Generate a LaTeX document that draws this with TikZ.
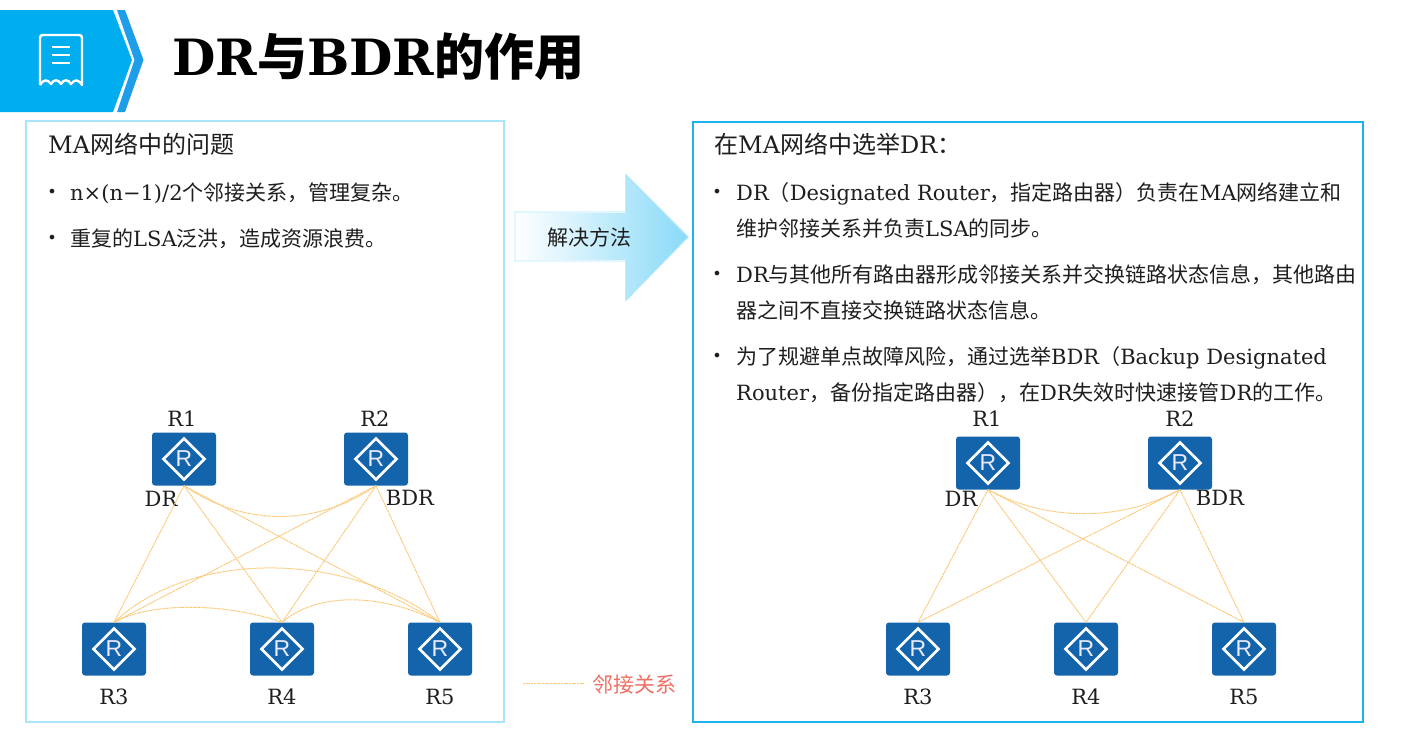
\documentclass[tikz,border=0pt]{standalone}
\usepackage{fontspec}
\setmainfont{DejaVu Serif}
\newfontfamily\cjk{Noto Sans CJK SC}
\newfontfamily\routerfont{Liberation Sans}
\newcommand{\zh}[1]{{\cjk #1}}
% full width marks
\newcommand{\fwcomma}{\zh{\symbol{"FF0C}}}
\newcommand{\fwopen}{\zh{\symbol{"FF08}}}
\newcommand{\fwclose}{\zh{\symbol{"FF09}}}
\newcommand{\fwcolon}{\zh{\symbol{"FF1A}}}
\usetikzlibrary{calc}
\definecolor{headblue}{HTML}{00AEEF}
\definecolor{bandblue}{HTML}{1E9DE8}
\definecolor{routerblue}{HTML}{1464AC}
\definecolor{lightframe}{HTML}{A8E4FA}
\definecolor{darkframe}{HTML}{1CB4EE}
\definecolor{arrowblue}{HTML}{8ADAF8}
\definecolor{linkorange}{HTML}{FBC878}
\definecolor{legendred}{HTML}{EE6F62}
\definecolor{textgrey}{HTML}{1E1E1E}
\tikzset{
    router/.style={rectangle, rounded corners=3, fill=routerblue, inner sep=0,
        minimum width=64, minimum height=53, text=blue!8, font=\routerfont\fontsize{23}{23}\selectfont,
        path picture={\draw[white, line width=2.6, sharp corners]
            ($(path picture bounding box.center)+(-20.5,0)$) -- ($(path picture bounding box.center)+(0,-20.5)$)
            -- ($(path picture bounding box.center)+(20.5,0)$) -- ($(path picture bounding box.center)+(0,20.5)$) -- cycle;}},
    rname/.style={text=textgrey, inner sep=0, font=\fontsize{21}{21}\selectfont},
    link/.style={linkorange, line width=1, dash pattern=on 2 off 0.7},
    head/.style={anchor=base west, inner sep=0, text=textgrey, font=\fontsize{24}{24}\selectfont},
    body/.style={anchor=base west, inner sep=0, text=textgrey, font=\fontsize{21}{21}\selectfont},
    dot/.style={inner sep=0, text=textgrey, font=\fontsize{16}{16}\selectfont},
}
\begin{document}
\begin{tikzpicture}[x=1pt, y=-1pt]
    \useasboundingbox (0,0) rectangle (1403,742);

    % Header
    \fill[headblue] (0,10) -- (113,10) -- (132,60) -- (113,112) -- (0,112) -- cycle;
    \fill[bandblue] (117,10) -- (125,10) -- (143.5,60) -- (125,112) -- (117,112) -- (134.5,60) -- cycle;
    \draw[white, line width=2.4, line join=round] (40,85) -- (40,38) .. controls (40,36) and (41,35) .. (43,35)
        -- (79,35) .. controls (81,35) and (82,36) .. (82,38) -- (82,85)
        .. controls (78,79) and (75,79) .. (71,84) .. controls (68,79) and (64,79) .. (61,84)
        .. controls (58,79) and (54,79) .. (51,84) .. controls (47,79) and (44,79) .. (40,85);
    \foreach \y in {47,55,63}
        \draw[white, line width=2.4] (52,\y) -- (70,\y);
    \node[anchor=base west, inner sep=0, font=\bfseries\fontsize{50}{50}\selectfont] (title) at (172,75)
        {DR\zh{与}BDR\zh{的作用}};

    % Frames
    \draw[lightframe, line width=2] (25.5,121) rectangle (504,722);
    \draw[darkframe, line width=2] (693,122) rectangle (1363,722);

    % Left text
    \node[head] (lefthead) at (48,153) {MA\zh{网络中的问题}};
    \foreach \y in {193,239}
        \node[dot] (ldot\y) at (52,\y) {•};
    \node[body] (lone) at (70,200.5) {n×(n−1)/2\zh{个邻接关系}\fwcomma\zh{管理复杂。}};
    \node[body] (ltwo) at (70,246.5) {\zh{重复的}LSA\zh{泛洪}\fwcomma\zh{造成资源浪费。}};

    % Arrow
    \path[left color=white, middle color=arrowblue!25, right color=arrowblue]
        (515,212) -- (626,212) -- (626,175) -- (688,237) -- (626,300) -- (626,261) -- (515,261) -- cycle;
    \draw[lightframe!35, line width=1.2] (626,212) -- (515,212) -- (515,261) -- (626,261);
    \draw[lightframe, line width=1.2] (626,212) -- (626,175) -- (688,237) -- (626,300) -- (626,261);
    \node[text=textgrey, inner sep=0, font=\fontsize{21}{21}\selectfont] (solve) at (589,237) {\zh{解决方法}};

    % Right text
    \node[head] (righthead) at (714,153.5) {\zh{在}MA\zh{网络中选举}DR\fwcolon};
    \foreach \y in {193,275,357}
        \node[dot] (rdot\y) at (717,\y) {•};
    \node[body] (rone) at (736,200.5) {DR\fwopen Designated Router\fwcomma\zh{指定路由器}\fwclose\zh{负责在}MA\zh{网络建立和}};
    \node[body] (roneb) at (736,236.5) {\zh{维护邻接关系并负责}LSA\zh{的同步。}};
    \node[body] (rtwo) at (736,282.5) {DR\zh{与其他所有路由器形成邻接关系并交换链路状态信息}\fwcomma\zh{其他路由}};
    \node[body] (rtwob) at (736,318.5) {\zh{器之间不直接交换链路状态信息。}};
    \node[body] (rthree) at (736,364.5) {\zh{为了规避单点故障风险}\fwcomma\zh{通过选举}BDR\fwopen Backup Designated};
    \node[body] (rthreeb) at (736,400.5) {Router\fwcomma\zh{备份指定路由器}\fwclose\fwcomma\zh{在}DR\zh{失效时快速接管}DR\zh{的工作。}};

    % Left routers
    \node[router] (la) at (184,459) {R};
    \node[router] (lb) at (376,459) {R};
    \node[router] (lc) at (114,649) {R};
    \node[router] (ld) at (282,649) {R};
    \node[router] (le) at (440,649) {R};
    \node[rname] (laname) at (182,419) {R1};
    \node[rname] (lbname) at (375,419) {R2};
    \node[rname] (lcname) at (114,697) {R3};
    \node[rname] (ldname) at (282,697) {R4};
    \node[rname] (lename) at (440,697) {R5};
    \node[rname] (ldr) at (161,499) {DR};
    \node[rname] (lbdr) at (410,498) {BDR};

    \draw[link] (la.south) -- (lc.north);
    \draw[link] (la.south) -- (ld.north);
    \draw[link] (la.south) -- (le.north);
    \draw[link] (lb.south) -- (lc.north);
    \draw[link] (lb.south) -- (ld.north);
    \draw[link] (lb.south) -- (le.north);
    \draw[link] (la.south) .. controls +(60,41) and +(-60,41) .. (lb.south);
    \draw[link] (lc.north) .. controls +(80,-75) and +(-90,-70) .. (le.north);
    \draw[link] (lc.north) .. controls +(40,-22) and +(-50,-18) .. (ld.north);
    \draw[link] (ld.north) .. controls +(35,-30) and +(-60,-30) .. (le.north);

    % Right routers
    \node[router] (ra) at (988,463) {R};
    \node[router] (rb) at (1180,463) {R};
    \node[router] (rc) at (918,649) {R};
    \node[router] (rd) at (1086,649) {R};
    \node[router] (re) at (1244,649) {R};
    \node[rname] (raname) at (987,419) {R1};
    \node[rname] (rbname) at (1180,419) {R2};
    \node[rname] (rcname) at (918,697) {R3};
    \node[rname] (rdname) at (1086,697) {R4};
    \node[rname] (rename) at (1244,697) {R5};
    \node[rname] (rdr) at (961,499) {DR};
    \node[rname] (rbdr) at (1220,498) {BDR};

    \draw[link] (ra.south) -- (rc.north);
    \draw[link] (ra.south) -- (rd.north);
    \draw[link] (ra.south) -- (re.north);
    \draw[link] (rb.south) -- (rc.north);
    \draw[link] (rb.south) -- (rd.north);
    \draw[link] (rb.south) -- (re.north);
    \draw[link] (ra.south) .. controls +(60,32) and +(-60,32) .. (rb.south);

    % Legend
    \coordinate (legfrom) at (523,683);
    \coordinate (legto) at (585,683);
    \draw[link] (legfrom) -- (legto);
    \node[text=legendred, inner sep=0, font=\fontsize{21}{21}\selectfont] (legtext) at (634,684.5) {\zh{邻接关系}};
\end{tikzpicture}
\end{document}
